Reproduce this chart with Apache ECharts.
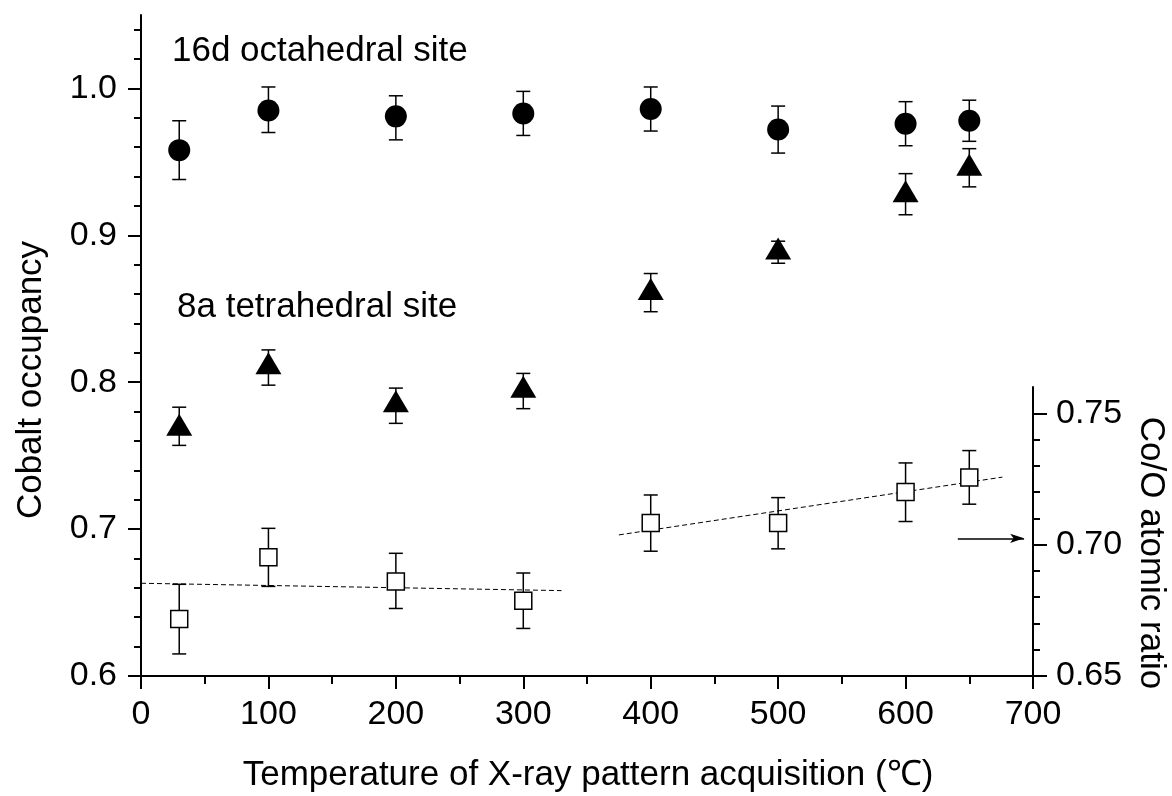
<!DOCTYPE html>
<html>
<head>
<meta charset="utf-8">
<script src="https://cdn.jsdelivr.net/npm/echarts@6/dist/echarts.min.js"></script>
<style>
html,body{margin:0;padding:0;background:#fff;}
#c{width:1172px;height:796px;}
</style>
</head>
<body>
<div id="c"></div>
<script>
// ---- data ----
const temps = [30, 100, 200, 300, 400, 500, 600, 650];

const octaValue = [0.958, 0.985, 0.981, 0.983, 0.986, 0.972, 0.976, 0.978];
const octaLow   = [0.938, 0.970, 0.965, 0.968, 0.971, 0.956, 0.961, 0.964];
const octaHigh  = [0.978, 1.001, 0.995, 0.998, 1.001, 0.988, 0.991, 0.992];

const tetraValue = [0.771, 0.813, 0.787, 0.797, 0.8635, 0.891, 0.930, 0.948];
const tetraLow   = [0.757, 0.798, 0.772, 0.782, 0.848, 0.881, 0.914, 0.933];
const tetraHigh  = [0.783, 0.822, 0.796, 0.806, 0.874, 0.896, 0.942, 0.959];

const coRatioValue = [0.6717, 0.6952, 0.686, 0.6786, 0.7082, 0.7082, 0.7200, 0.7256];
const coRatioLow   = [0.6584, 0.6841, 0.6757, 0.6681, 0.6975, 0.6984, 0.7088, 0.7154];
const coRatioHigh  = [0.6849, 0.7062, 0.6967, 0.6892, 0.7189, 0.7179, 0.7311, 0.7358];

const fit1X = [0, 330];
const fit1Y = [0.6853, 0.6825];
const fit2X = [375, 676];
const fit2Y = [0.7037, 0.7257];

const arrowX = [641, 693];
const arrowY = [0.7024, 0.7024];

const xTicks = [0, 100, 200, 300, 400, 500, 600, 700];
const leftMajorTicks = [0.6, 0.7, 0.8, 0.9, 1.0];
const leftMinorTicks = [0.62, 0.64, 0.66, 0.68, 0.72, 0.74, 0.76, 0.78, 0.82, 0.84, 0.86, 0.88, 0.92, 0.94, 0.96, 0.98, 1.02, 1.04];
const rightMajorTicks = [0.65, 0.70, 0.75];
const rightMinorTicks = [0.66, 0.67, 0.68, 0.69, 0.71, 0.72, 0.73, 0.74];

const xTitle = 'Temperature of X-ray pattern acquisition (℃)';
const leftTitle = 'Cobalt occupancy';
const rightTitle = 'Co/O atomic ratio';
const label16d = '16d octahedral site';
const label8a = '8a tetrahedral site';

// ---- chart ----
const FONT = '"Liberation Sans", Arial, sans-serif';
const chart = echarts.init(document.getElementById('c'));

function zip(xs, ...cols) { return xs.map((x, i) => [x, ...cols.map(c => c[i])]); }

function errRender(capHalf) {
  return function (params, api) {
    const x = api.value(0), lo = api.value(1), hi = api.value(2);
    const pLo = api.coord([x, lo]), pHi = api.coord([x, hi]);
    const style = { stroke: '#000', lineWidth: 1.5, fill: null };
    return {
      type: 'group',
      children: [
        { type: 'line', shape: { x1: pLo[0], y1: pLo[1], x2: pHi[0], y2: pHi[1] }, style },
        { type: 'line', shape: { x1: pLo[0] - capHalf, y1: pLo[1], x2: pLo[0] + capHalf, y2: pLo[1] }, style },
        { type: 'line', shape: { x1: pHi[0] - capHalf, y1: pHi[1], x2: pHi[0] + capHalf, y2: pHi[1] }, style }
      ]
    };
  };
}

const axisLineStyle = { color: '#000', width: 2 };
const tickStyle = { color: '#000', width: 2 };
const xMin = xTicks[0], xMax = xTicks[xTicks.length - 1];

function hiddenX(gi) {
  return { gridIndex: gi, type: 'value', min: xMin, max: xMax, show: false, splitLine: { show: false } };
}

const mainGrid = { left: 141, right: 139, top: 15, bottom: 120 };
const ratioGrid = { left: 141, right: 139, top: 387, bottom: 120 };

const option = {
  animation: false,
  backgroundColor: '#fff',
  grid: [mainGrid, ratioGrid, Object.assign({}, mainGrid), Object.assign({}, ratioGrid)],
  xAxis: [
    {
      gridIndex: 0, type: 'value', min: xMin, max: xMax, interval: 100,
      axisLine: { show: true, onZero: false, lineStyle: axisLineStyle },
      axisTick: { show: true, inside: false, length: 13, lineStyle: tickStyle },
      minorTick: { show: true, splitNumber: 2, length: 8, lineStyle: tickStyle },
      axisLabel: { color: '#000', fontSize: 34, fontFamily: FONT, margin: 22 },
      splitLine: { show: false }, minorSplitLine: { show: false }
    },
    hiddenX(1), hiddenX(2), hiddenX(3)
  ],
  yAxis: [
    {
      gridIndex: 0, type: 'value', position: 'left', min: 0.6, max: 1.05,
      axisLine: { show: true, onZero: false, lineStyle: axisLineStyle },
      axisTick: { show: true, inside: false, length: 13, customValues: leftMajorTicks, lineStyle: tickStyle },
      axisLabel: { color: '#000', fontSize: 34, fontFamily: FONT, margin: 24, customValues: leftMajorTicks,
                   formatter: v => Number(v).toFixed(1) },
      splitLine: { show: false }
    },
    {
      gridIndex: 1, type: 'value', position: 'right', min: 0.65, max: 0.76,
      axisLine: { show: true, onZero: false, lineStyle: axisLineStyle },
      axisTick: { show: true, inside: false, length: 14, customValues: rightMajorTicks, lineStyle: tickStyle },
      axisLabel: { color: '#000', fontSize: 34, fontFamily: FONT, margin: 23, customValues: rightMajorTicks,
                   formatter: v => Number(v).toFixed(2) },
      splitLine: { show: false }
    },
    {
      gridIndex: 2, type: 'value', position: 'left', min: 0.6, max: 1.05,
      axisLine: { show: false, onZero: false },
      axisTick: { show: true, inside: false, length: 7, customValues: leftMinorTicks, lineStyle: tickStyle },
      axisLabel: { show: false },
      splitLine: { show: false }
    },
    {
      gridIndex: 3, type: 'value', position: 'right', min: 0.65, max: 0.76,
      axisLine: { show: false, onZero: false },
      axisTick: { show: true, inside: false, length: 7, customValues: rightMinorTicks, lineStyle: tickStyle },
      axisLabel: { show: false },
      splitLine: { show: false }
    }
  ],
  series: [
    {
      type: 'line', xAxisIndex: 1, yAxisIndex: 1, data: zip(fit1X, fit1Y), showSymbol: false, silent: true,
      lineStyle: { color: '#000', width: 1, type: [5, 3] }, z: 2
    },
    {
      type: 'line', xAxisIndex: 1, yAxisIndex: 1, data: zip(fit2X, fit2Y), showSymbol: false, silent: true,
      lineStyle: { color: '#000', width: 1, type: [5, 3] }, z: 2,
      markLine: {
        silent: true, animation: false,
        label: { show: false },
        lineStyle: { color: '#000', width: 1.5, type: 'solid' },
        data: [[
          { coord: [arrowX[0], arrowY[0]], symbol: 'none' },
          { coord: [arrowX[1], arrowY[1]], symbol: 'arrow', symbolSize: [7, 14] }
        ]]
      }
    },
    { type: 'custom', xAxisIndex: 0, yAxisIndex: 0, data: zip(temps, octaLow, octaHigh),
      encode: { x: 0, y: [1, 2] }, renderItem: errRender(7), z: 3, silent: true },
    { type: 'custom', xAxisIndex: 0, yAxisIndex: 0, data: zip(temps, tetraLow, tetraHigh),
      encode: { x: 0, y: [1, 2] }, renderItem: errRender(7), z: 3, silent: true },
    { type: 'custom', xAxisIndex: 1, yAxisIndex: 1, data: zip(temps, coRatioLow, coRatioHigh),
      encode: { x: 0, y: [1, 2] }, renderItem: errRender(7), z: 3, silent: true },
    { type: 'scatter', xAxisIndex: 0, yAxisIndex: 0, data: zip(temps, octaValue),
      symbol: 'circle', symbolSize: 22, itemStyle: { color: '#000', opacity: 1 }, z: 5 },
    { type: 'scatter', xAxisIndex: 0, yAxisIndex: 0, data: zip(temps, tetraValue),
      symbol: 'triangle', symbolSize: [26, 22], itemStyle: { color: '#000', opacity: 1 }, z: 5 },
    { type: 'scatter', xAxisIndex: 1, yAxisIndex: 1, data: zip(temps, coRatioValue),
      symbol: 'rect', symbolSize: 17, itemStyle: { color: '#fff', borderColor: '#000', borderWidth: 1.5, opacity: 1 }, z: 5 }
  ],
  graphic: [
    { type: 'text', x: 172, y: 51, style: { text: label16d, fontSize: 35, fontFamily: FONT, fill: '#000', align: 'left', verticalAlign: 'middle' } },
    { type: 'text', x: 177, y: 307, style: { text: label8a, fontSize: 35, fontFamily: FONT, fill: '#000', align: 'left', verticalAlign: 'middle' } },
    { type: 'text', x: 588, y: 775, style: { text: xTitle, fontSize: 35, fontFamily: FONT, fill: '#000', align: 'center', verticalAlign: 'middle' } },
    { type: 'text', x: 31, y: 380, rotation: Math.PI / 2, style: { text: leftTitle, fontSize: 35, fontFamily: FONT, fill: '#000', align: 'center', verticalAlign: 'middle' } },
    { type: 'text', x: 1151, y: 553, rotation: -Math.PI / 2, style: { text: rightTitle, fontSize: 35, fontFamily: FONT, fill: '#000', align: 'center', verticalAlign: 'middle' } }
  ]
};
chart.setOption(option);
</script>
</body>
</html>
